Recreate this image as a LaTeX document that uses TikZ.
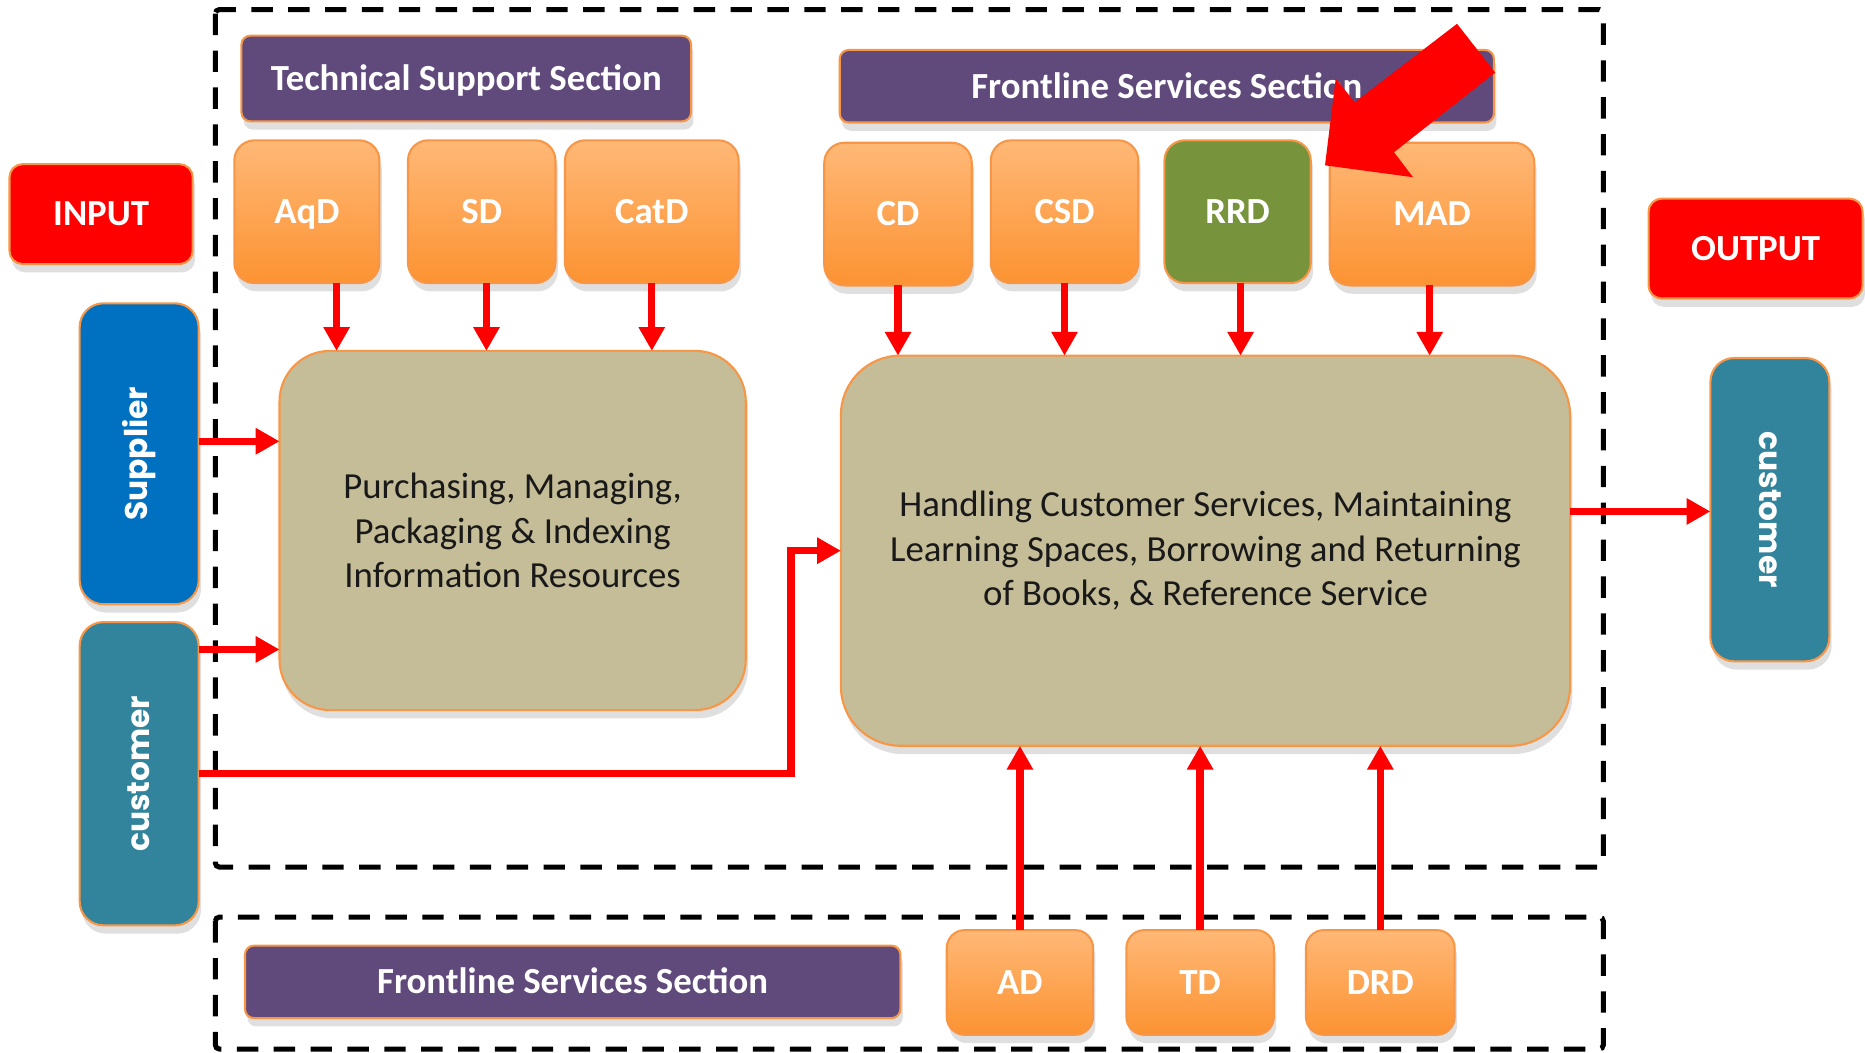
\documentclass[tikz,border=0pt]{standalone}
\usepackage{fontspec}
\setmainfont{Carlito}
\newfontfamily\popfont{Poppins}
\usepackage{graphicx}
\usetikzlibrary{arrows.meta,shadows,calc}
\definecolor{purp}{HTML}{604A7B}
\definecolor{obord}{HTML}{F79646}
\definecolor{tanf}{HTML}{C4BD97}
\definecolor{oblue}{HTML}{0070C0}
\definecolor{tealb}{HTML}{31849B}
\definecolor{ogreen}{HTML}{77933C}
\definecolor{otop}{HTML}{FFB877}
\definecolor{obot}{HTML}{FC9332}
\newcommand\labf{\fontsize{17.6}{21}\selectfont\bfseries}
\newcommand\bodyf{\fontsize{17.6}{21.3}\selectfont}
\newcommand\actf{\popfont\fontsize{15}{18}\selectfont\bfseries}
\tikzset{
  sz/.style 2 args={minimum width=#1*0.02cm, minimum height=#2*0.02cm},
  base/.style={draw=obord, line width=1pt, inner sep=0pt, outer sep=0pt,
    drop shadow={shadow xshift=0.04cm, shadow yshift=-0.14cm, opacity=0.25}},
  capc/.style={text height=11.3pt, text depth=0pt},
  sect/.style={base, capc, fill=purp, rounded corners=0.15cm, text=white, font=\labf},
  dept/.style={base, capc, top color=otop, bottom color=obot, rounded corners=0.34cm, text=white, font=\labf},
  deptg/.style={base, capc, fill=ogreen, rounded corners=0.34cm, text=white, font=\labf},
  io/.style={base, capc, fill=red, rounded corners=0.22cm, text=white, font=\labf},
  actor/.style={base, rounded corners=0.4cm, text=white, font=\actf},
  proc/.style={base, fill=tanf, align=center, font=\bodyf, text=black!90},
  frame/.style={draw=black, line width=2.4pt, dash pattern=on 0.36cm off 0.26cm, rounded corners=2pt},
  arr/.style={draw=red, line width=3.5pt, -{Triangle[width=0.42cm,length=0.4cm]}},
  bigarrow/.style={fill=red}
}
\begin{document}
\begin{tikzpicture}[x=0.02cm, y=-0.02cm]
\useasboundingbox (0,0) rectangle (1568,885);
% dashed frames
\draw[frame] (181,8) rectangle (1348,729);
\draw[frame] (181,771) rectangle (1348,882);
% section headers
\node[sect, sz={378}{72}] (tss) at (392,66) {Technical Support Section};
\node[sect, sz={550}{61}] (fss1) at (981,72.5) {Frontline Services Section};
% departments top
\node[dept, sz={122}{120}] (aqd) at (258,178) {AqD};
\node[dept, sz={124}{120}] (sd) at (405,178) {SD};
\node[dept, sz={146}{120}] (catd) at (548,178) {CatD};
\node[dept, sz={124}{120}] (cd) at (755,180) {CD};
\node[dept, sz={124}{120}] (csd) at (895,178) {CSD};
\node[deptg, sz={123}{120}] (rrd) at (1040.5,178) {RRD};
\node[dept, sz={172}{120}] (mad) at (1204,180) {MAD};
% input/output
\node[io, sz={154}{84}] (input) at (85,180) {INPUT};
\node[io, sz={180}{84}] (output) at (1476,209) {OUTPUT};
% actors
\node[actor, fill=oblue, sz={100}{253}] (supplier) at (117,381.5) {\rotatebox{90}{Supplier}};
\node[actor, fill=tealb, sz={100}{255}] (custL) at (117,650.5) {\rotatebox{90}{customer}};
\node[actor, fill=tealb, sz={100}{255}] (custR) at (1488,428.5) {\rotatebox{-90}{customer}};
% processes
\node[proc, rounded corners=0.85cm, sz={392}{302}] (box1) at (431,446) {Purchasing, Managing,\\Packaging \& Indexing\\Information Resources};
\node[proc, rounded corners=1cm, sz={613}{328}] (box2) at (1013.5,463) {Handling Customer Services, Maintaining\\Learning Spaces, Borrowing and Returning\\of Books, \& Reference Service};
% bottom row
\node[sect, sz={551}{61}] (fss2) at (481.5,825.5) {Frontline Services Section};
\node[dept, rounded corners=0.3cm, sz={123}{88}] (ad) at (857.5,826) {AD};
\node[dept, rounded corners=0.3cm, sz={124}{88}] (td) at (1009,826) {TD};
\node[dept, rounded corners=0.3cm, sz={125}{88}] (drd) at (1160.5,826) {DRD};
% arrows into box1
\foreach \n/\dx in {aqd/25, sd/4, catd/0} {
  \coordinate (s) at ([xshift=\dx*0.02cm]\n.south);
  \draw[arr] (s) -- (s |- box1.north);
}
% arrows into box2
\foreach \n/\dx in {cd/0, csd/0, rrd/2.5, mad/-2} {
  \coordinate (s) at ([xshift=\dx*0.02cm]\n.south);
  \draw[arr] (s) -- (s |- box2.north);
}
\coordinate (p1) at ([yshift=0.21cm]supplier.east);
\draw[arr] (p1) -- (p1 -| box1.west);
\coordinate (p2) at ([yshift=2.09cm]custL.east);
\draw[arr] (p2) -- (p2 -| box1.west);
\draw[arr, line join=miter] (custL.east) -| ($(box2.west)+(-42,0)$) -- (box2.west);
\coordinate (p3) at ([yshift=0.66cm]box2.east);
\draw[arr] (p3) -- (p3 -| custR.west);
% bottom arrows
\foreach \n in {ad, td, drd} {
  \draw[arr] (\n.north) -- (\n.north |- box2.south);
}
% big block arrow
\fill[bigarrow] (1225,20) -- (1139,86) -- (1123,66) -- (1114,139) -- (1188,149) -- (1172,128) -- (1257,61) -- cycle;
\end{tikzpicture}
\end{document}
